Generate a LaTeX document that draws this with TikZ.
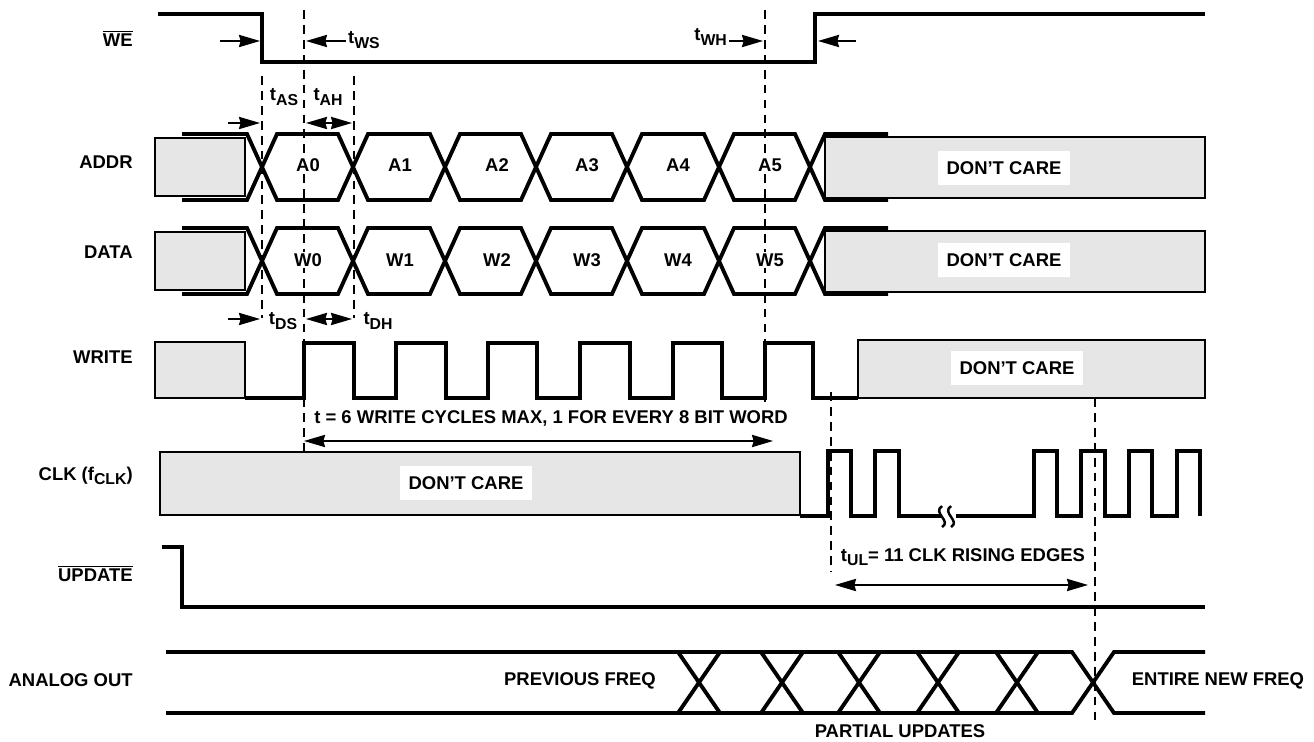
\documentclass[tikz,border=0pt]{standalone}
\usepackage{fontspec}
\setmainfont{Liberation Sans}
\usetikzlibrary{arrows.meta}
\definecolor{dcgrey}{HTML}{E6E6E6}

\newcommand{\tsub}[2]{#1\raisebox{-0.45ex}{\fontsize{9}{10}\selectfont #2}}
\newcommand{\negsig}[1]{$\overline{\mbox{#1}}$}
% one bus row: two zigzag strokes (top y, bottom y)
\newcommand{\busrow}[2]{%
  \draw[sig] (182,#1) -- (247,#1) -- (277,#2) -- (338,#2) -- (368,#1) -- (430,#1) -- (460,#2) -- (521,#2) -- (551,#1) -- (612,#1) -- (642,#2) -- (704,#2) -- (734,#1) -- (795,#1) -- (825,#2) -- (888,#2);
  \draw[sig] (182,#2) -- (247,#2) -- (277,#1) -- (338,#1) -- (368,#2) -- (430,#2) -- (460,#1) -- (521,#1) -- (551,#2) -- (612,#2) -- (642,#1) -- (704,#1) -- (734,#2) -- (795,#2) -- (825,#1) -- (888,#1);}

\begin{document}
\begin{tikzpicture}[x=0.02cm,y=-0.02cm,
  font=\fontsize{10.5}{12}\selectfont\bfseries,
  sig/.style={line width=2.2pt},
  dcbox/.style={draw,line width=0.6pt,fill=dcgrey},
  guide/.style={line width=0.75pt,dash pattern=on 5pt off 3.5pt},
  dim/.style={line width=0.8pt,-{Triangle[length=12pt,width=7pt,inset=1pt]}},
  ddim/.style={line width=0.8pt,{Triangle[length=12pt,width=7pt,inset=1pt]}-{Triangle[length=12pt,width=7pt,inset=1pt]}},
  sname/.style={anchor=east,inner sep=0pt},
  dclbl/.style={fill=white,inner xsep=5pt,inner ysep=6pt},
  word/.style={fill=white,inner sep=1pt}]
\useasboundingbox (0,0) rectangle (1314,742);

% signal names
\node[sname] (we)   at (133,38)  {\negsig{WE}};
\node[sname] (addr) at (133,162) {ADDR};
\node[sname] (data) at (133,252) {DATA};
\node[sname] (wr)   at (133,357) {WRITE};
\node[sname] (clk)  at (133,476) {CLK (\tsub{f}{CLK})};
\node[sname] (upd)  at (133,573) {\negsig{UPDATE}};
\node[sname] (aout) at (133,680) {ANALOG OUT};

% don't care areas
\draw[dcbox] (155,138) rectangle (245,196);
\draw[dcbox] (825,137) rectangle (1205,198);
\draw[dcbox] (155,232) rectangle (245,290);
\draw[dcbox] (825,231) rectangle (1205,292);
\draw[dcbox] (155,342) rectangle (245,398);
\draw[dcbox] (858,340) rectangle (1205,398);
\draw[dcbox] (160,452) rectangle (800,515);

% timing guides
\draw[guide] (262,76) -- (262,318);
\draw[guide] (304,10) -- (304,458);
\draw[guide] (354,76) -- (354,318);
\draw[guide] (765,10) -- (765,402);
\draw[guide] (831,392) -- (831,572);
\draw[guide] (1095,398) -- (1095,722);

% waveforms
\draw[sig] (158,14) -- (262,14) -- (262,62) -- (815,62) -- (815,14) -- (1205,14);
\busrow{134}{200}
\busrow{228}{294}
\draw[sig] (245,398) \foreach \up/\dn in {304/354,396/446,488/537,580/630,673/722,765/813}{ -- (\up,398) -- (\up,343) -- (\dn,343) -- (\dn,398)} -- (858,398);
\draw[sig] (800,516) \foreach \up/\dn in {828/851,875/899}{ -- (\up,516) -- (\up,451) -- (\dn,451) -- (\dn,516)} -- (941,516);
\draw[sig] (956,516) \foreach \up/\dn in {1034/1057,1081/1105,1129/1152,1177/1200}{ -- (\up,516) -- (\up,451) -- (\dn,451) -- (\dn,516)};
% break in the clock
\draw[line width=1.4pt] (942,527) .. controls (952,521) and (932,513) .. (942,506)
  (951,527) .. controls (961,521) and (941,513) .. (951,506);
\draw[sig] (162,547) -- (182,547) -- (182,607) -- (1205,607);
\draw[sig] (166,652) -- (1072,652) -- (1114,713) -- (1205,713);
\draw[sig] (166,713) -- (1072,713) -- (1114,652) -- (1205,652);
\foreach \xc in {699,782,859,938,1017}
  \draw[sig] (\xc-21,652) -- (\xc+21,713) (\xc-21,713) -- (\xc+21,652);

% bus words
\foreach \x/\k in {308/0,400/1,497/2,587/3,678/4,770/5}{
  \node[word] (a\k) at (\x,165) {A\k};
  \node[word] (w\k) at (\x,260) {W\k};}
\node[dclbl] (dca) at (1004,168) {DON'T CARE};
\node[dclbl] (dcd) at (1004,260) {DON'T CARE};
\node[dclbl] (dcw) at (1017,368) {DON'T CARE};
\node[dclbl] (dcc) at (466,483) {DON'T CARE};

% timing labels and arrows
\node (tas) at (284,97) {\tsub{t}{AS}};
\node (tah) at (328,97) {\tsub{t}{AH}};
\node[anchor=west,inner sep=1pt] (tws) at (346,40) {\tsub{t}{WS}};
\node[anchor=east,inner sep=1pt] (twh) at (729,37) {\tsub{t}{WH}};
\node (tds) at (283,321) {\tsub{t}{DS}};
\node (tdh) at (378,321) {\tsub{t}{DH}};
\coordinate (weL) at (220,41);  \coordinate (weF) at (260,41);
\coordinate (wsT) at (306,41);  \coordinate (whT) at (763,41);
\coordinate (weR) at (856,41);  \coordinate (weU) at (818,41);
\draw[dim] (weL) -- (weF);
\draw[dim] (tws.west |- wsT) -- (wsT);
\draw[dim] (twh.east |- whT) -- (whT);
\draw[dim] (weR) -- (weU);
\coordinate (asL) at (228,123); \coordinate (asT) at (260,123);
\coordinate (ahL) at (306,123); \coordinate (ahR) at (352,123);
\draw[dim] (asL) -- (asT);
\draw[ddim] (ahL) -- (ahR);
\coordinate (dsL) at (228,319); \coordinate (dsT) at (260,319);
\coordinate (dhL) at (306,319); \coordinate (dhR) at (352,319);
\draw[dim] (dsL) -- (dsT);
\draw[ddim] (dhL) -- (dhR);

\node (twc) at (551,418) {t = 6 WRITE CYCLES MAX, 1 FOR EVERY 8 BIT WORD};
\coordinate (wcL) at (304,441); \coordinate (wcR) at (773,441);
\draw[ddim] (wcL) -- (wcR);
\node (tul) at (963,557) {\tsub{t}{UL}= 11 CLK RISING EDGES};
\coordinate (ulL) at (835,585); \coordinate (ulR) at (1088,585);
\draw[ddim] (ulL) -- (ulR);

\node (prev) at (580,681) {PREVIOUS FREQ};
\node (newf) at (1218,681) {ENTIRE NEW FREQ};
\node (part) at (900,731) {PARTIAL UPDATES};
\end{tikzpicture}
\end{document}
